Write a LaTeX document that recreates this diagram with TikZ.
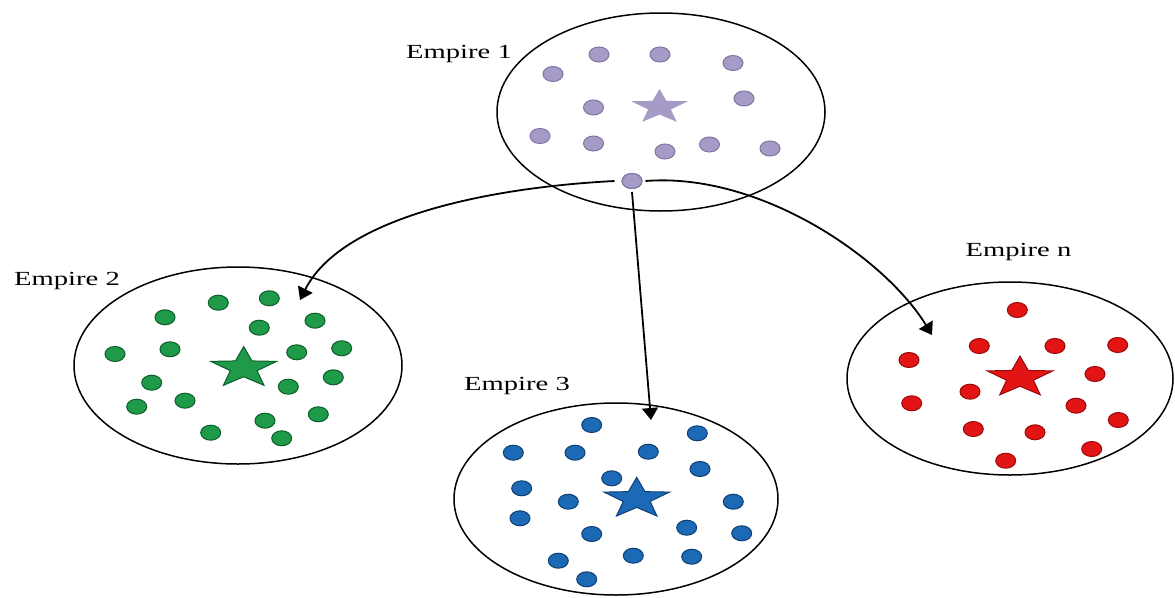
\documentclass[tikz,border=0pt]{standalone}
\usepackage{fontspec}
\setmainfont{Liberation Serif}
\usetikzlibrary{shapes.geometric,arrows.meta}
\definecolor{lavF}{HTML}{A59BC6}
\definecolor{lavD}{HTML}{7E75A2}
\definecolor{grnF}{HTML}{1F9A48}
\definecolor{grnD}{HTML}{0B5E2A}
\definecolor{bluF}{HTML}{1C6AB5}
\definecolor{bluD}{HTML}{0D3F73}
\definecolor{redF}{HTML}{E31414}
\definecolor{redD}{HTML}{9A0A0A}
\tikzset{
  empire/.style={ellipse, draw=black, line width=1.5pt, inner sep=0pt, fill=white},
  dotbase/.style={ellipse, inner sep=0pt, minimum width=20pt, minimum height=15pt, line width=1pt},
  lavdot/.style={dotbase, fill=lavF, draw=lavD},
  grndot/.style={dotbase, fill=grnF, draw=grnD},
  bludot/.style={dotbase, fill=bluF, draw=bluD},
  reddot/.style={dotbase, fill=redF, draw=redD},
  starbase/.style={star, star points=5, star point ratio=2.45, inner sep=0pt, line width=1pt, yscale=0.62},
  lbl/.style={font=\fontsize{20}{23}\selectfont, anchor=base, inner sep=0pt, xscale=1.43},
  arr/.style={line width=1.8pt, -{Triangle[width=16pt,length=12pt]}}
}
\begin{document}
\begin{tikzpicture}[x=1pt,y=-1pt]
\useasboundingbox (0,0) rectangle (1175,597);
\fill[white] (0,0) rectangle (1175,597);

% empires
\node[empire, minimum width=328pt, minimum height=198pt] (E1) at (661,112) {};
\node[empire, minimum width=328pt, minimum height=197pt] (E2) at (238,365.5) {};
\node[empire, minimum width=324pt, minimum height=192pt] (E3) at (616,499) {};
\node[empire, minimum width=326pt, minimum height=193pt] (En) at (1010,378.5) {};

% labels
\node[lbl] (L1) at (459,58.3) {Empire 1};
\node[lbl] (L2) at (67,285) {Empire 2};
\node[lbl] (L3) at (517,390) {Empire 3};
\node[lbl] (Ln) at (1018.5,256) {Empire n};

% arrow tips
\coordinate (t2) at (300,300);
\coordinate (t3) at (651,420);
\coordinate (tn) at (932,335);
\node[lavdot] (src) at (632,181) {};

\draw[arr] ([xshift=-7pt]src.west) .. controls (480,188) and (340,220) .. (t2);
\draw[arr] ([yshift=-3pt]src.south) -- (t3);
\draw[arr] ([xshift=3pt]src.east) .. controls (760,172) and (885,258) .. (tn);
\node[lavdot] at (src) {};

% empire 1 dots
\foreach \p [count=\i] in {(553,74),(599,54.5),(660,54.5),(733,63),(744,98.5),(593.5,107.5),(540,136),(593.5,143.5),(665,151.5),(709.5,144.5),(770,148.5)}
  \node[lavdot] (a\i) at \p {};
\node[starbase, fill=lavF, draw=lavF, minimum size=55pt] (S1) at (659.5,107) {};

% empire 2 dots
\foreach \p [count=\i] in {(218.3,302.7),(269.3,298.3),(165,317.3),(315,320.7),(259.3,327.7),(115,354),(170,349.3),(296.7,352.3),(341.7,348.3),(151.7,382.7),(288.3,386.7),(333.3,377.3),(136.7,406.7),(185,400.7),(318.3,414.3),(265,420.7),(210.7,432.7),(281.7,438.3)}
  \node[grndot] (b\i) at \p {};
\node[starbase, fill=grnF, draw=grnD, minimum size=69pt] (S2) at (243.7,368) {};

% empire 3 dots
\foreach \p [count=\i] in {(591.7,425),(697.3,433.3),(513.3,452.7),(575,452.7),(648.3,451.7),(700,469),(611.7,478.3),(521.7,488.3),(568.3,501.7),(733.3,501.7),(520,518.3),(591.7,534),(686.7,527.7),(741.7,533.3),(558.3,560.7),(633.3,555.7),(691.7,556.7),(586.7,579.3)}
  \node[bludot] (c\i) at \p {};
\node[starbase, fill=bluF, draw=bluD, minimum size=69pt] (S3) at (636.7,498.7) {};

% empire n dots
\foreach \p [count=\i] in {(1017.3,310),(979.3,346),(1055,346),(1117.7,345),(909,360),(1095,374),(970,391.7),(911.7,403.3),(1076,405.7),(1118.3,420),(973.3,429),(1035,432.3),(1091.7,449),(1005.7,460.7)}
  \node[reddot] (d\i) at \p {};
\node[starbase, fill=redF, draw=redD, minimum size=69pt] (S4) at (1020,377.5) {};
\end{tikzpicture}
\end{document}
